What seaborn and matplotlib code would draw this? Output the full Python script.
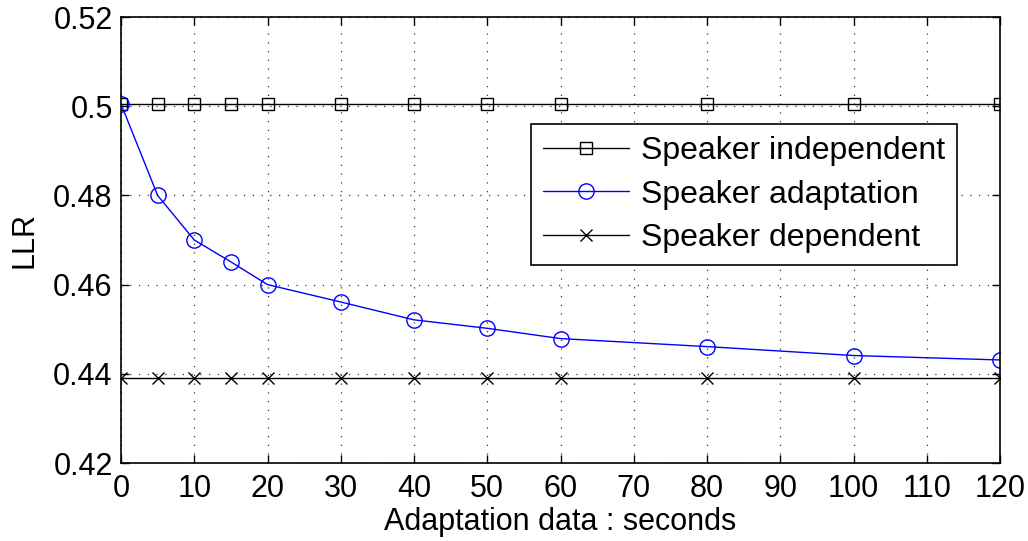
import matplotlib
matplotlib.use("Agg")
import matplotlib.pyplot as plt
import seaborn as sns
import pandas as pd

seconds = [0, 5, 10, 15, 20, 30, 40, 50, 60, 80, 100, 120]
speaker_independent = [0.5005] * 12
speaker_adaptation = [0.5005, 0.480, 0.470, 0.4651, 0.460, 0.4561, 0.4521, 0.4502, 0.4479, 0.4461, 0.4441, 0.4431]
speaker_dependent = [0.4391] * 12
x_ticks = list(range(0, 121, 10))
y_ticks = [0.42, 0.44, 0.46, 0.48, 0.50, 0.52]
y_tick_labels = ["0.42", "0.44", "0.46", "0.48", "0.5", "0.52"]

sns.set_theme(style="white")
plt.rcParams['font.family'] = ['Liberation Sans', 'DejaVu Sans']

fig = plt.figure(figsize=(10.28, 5.41), dpi=100)
ax = fig.add_axes([121 / 1028, 1 - 463 / 541, 879 / 1028, 446 / 541])

df_si = pd.DataFrame({"x": seconds, "y": speaker_independent})
df_sa = pd.DataFrame({"x": seconds, "y": speaker_adaptation})
df_sd = pd.DataFrame({"x": seconds, "y": speaker_dependent})

sns.lineplot(data=df_si, x="x", y="y", ax=ax, color="black", lw=1.0, marker="s",
             markersize=8.5, markerfacecolor="none", markeredgecolor="black",
             markeredgewidth=1.0, label="Speaker independent")
sns.lineplot(data=df_sa, x="x", y="y", ax=ax, color="blue", lw=1.0, marker="o",
             markersize=11, markerfacecolor="none", markeredgecolor="blue",
             markeredgewidth=1.0, label="Speaker adaptation")
sns.lineplot(data=df_sd, x="x", y="y", ax=ax, color="black", lw=1.0, marker="x",
             markersize=8, markeredgecolor="black", markeredgewidth=1.0,
             label="Speaker dependent")

ax.set_xlim(0, 120)
ax.set_ylim(0.42, 0.52)
ax.set_xticks(x_ticks)
ax.set_yticks(y_ticks)
ax.set_yticklabels(y_tick_labels)
ax.tick_params(direction="in", length=6, width=1.0, colors="black", labelsize=22,
               top=True, right=True, bottom=True, left=True)
ax.tick_params(axis="x", pad=8)
ax.tick_params(axis="y", pad=6)
ax.grid(True, linestyle=(0, (1, 6)), color="black", linewidth=0.9, alpha=0.8)
for s in ax.spines.values():
    s.set_color("black")
    s.set_linewidth(1.2)
    s.set_visible(True)

ax.set_xlabel("Adaptation data : seconds", fontsize=22, color="black", labelpad=2)
ax.set_ylabel("LLR", fontsize=22, color="black", labelpad=10)

leg = ax.legend(loc="upper right", bbox_to_anchor=(0.951, 0.760), borderaxespad=0,
                fontsize=23, frameon=True, fancybox=False, edgecolor="black",
                framealpha=1.0, handlelength=2.7, handletextpad=0.35,
                labelspacing=0.42, borderpad=0.38)
leg.get_frame().set_linewidth(1.2)
for t in leg.get_texts():
    t.set_color("black")

fig.savefig("out.png", dpi=100, facecolor="white")
